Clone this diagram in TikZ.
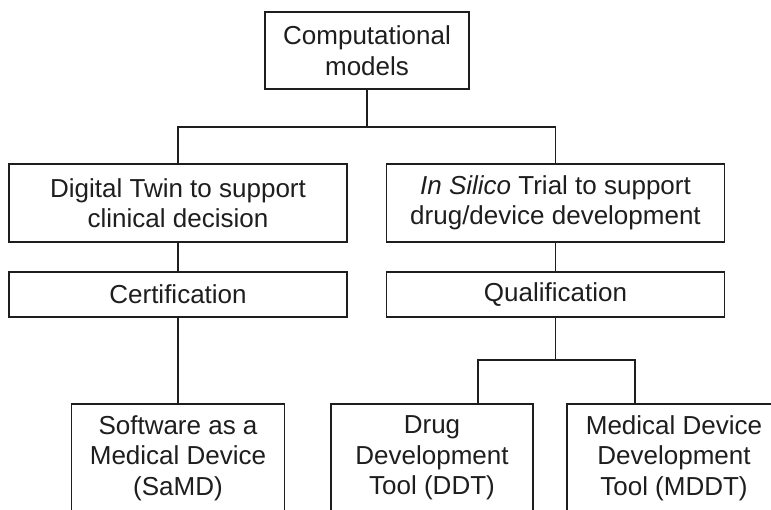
\documentclass[tikz,border=0pt]{standalone}
\usepackage{fontspec}
\setmainfont{Liberation Sans}
\definecolor{linec}{HTML}{1E1E1E}
\begin{document}
\begin{tikzpicture}[x=1pt,y=-1pt,
  box/.style={draw=linec, line width=1.4pt, align=center, text=linec,
    font=\fontsize{26}{30.5}\selectfont, inner sep=0pt},
  link/.style={draw=linec, line width=1.4pt}]
\useasboundingbox (0,0) rectangle (771,510);
\clip (0,0) rectangle (771,510);
\fill[white] (0,0) rectangle (771,510);
\node[box, minimum width=204pt, minimum height=77pt] (top) at (367,50.5) {Computational\\models};
\node[box, minimum width=338pt, minimum height=78pt] (dt) at (178,203) {Digital Twin to support\\clinical decision};
\node[box, minimum width=338pt, minimum height=78pt] (is) at (555.5,203) {\textit{In Silico} Trial to support\\drug/device development};
\node[box, minimum width=338pt, minimum height=45pt] (cert) at (178,294.5) {Certification};
\node[box, minimum width=338pt, minimum height=45pt] (qual) at (555.5,294.5) {Qualification};
\node[box, minimum width=213pt, minimum height=108pt] (samd) at (178,458) {Software as a\\Medical Device\\(SaMD)};
\node[box, minimum width=202pt, minimum height=108pt] (ddt) at (432,458) {Drug\\Development\\Tool (DDT)};
\node[box, minimum width=214pt, minimum height=108pt] (mddt) at (674,458) {Medical Device\\Development\\Tool (MDDT)};
\coordinate (j1) at (367,127);
\coordinate (j2) at (555.5,360);
\coordinate (ddtin) at (478,404);
\coordinate (mddtin) at (635,404);
\draw[link] (top.south) -- (j1);
\draw[link] (dt.north) |- (j1) -| (is.north);
\draw[link] (dt.south) -- (cert.north);
\draw[link] (is.south) -- (qual.north);
\draw[link] (cert.south) -- (samd.north);
\draw[link] (qual.south) -- (j2);
\draw[link] (ddtin) |- (j2) -| (mddtin);
\end{tikzpicture}
\end{document}
